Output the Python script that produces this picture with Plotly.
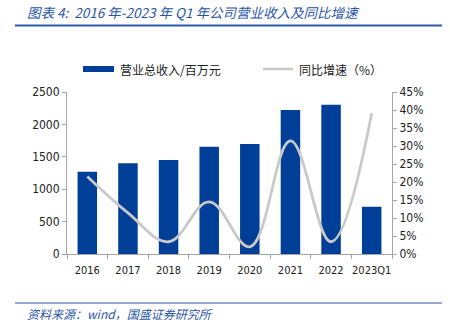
import plotly.graph_objects as go

categories = ["2016", "2017", "2018", "2019", "2020", "2021", "2022", "2023Q1"]
revenue = [1270, 1400, 1450, 1656, 1697, 2222, 2304, 730]
growth = [21.5, 11.4, 3.4, 14.5, 2.0, 31.4, 3.4, 39.1]
left_ticks = [0, 500, 1000, 1500, 2000, 2500]
right_ticks = [0, 5, 10, 15, 20, 25, 30, 35, 40, 45]
right_labels = [f"{v}%" for v in right_ticks]

BAR = "#003f97"
LINE = "#c9c9c9"
TXTBLUE = "#2a56a6"
AXIS = "#a6a6a6"
FONT = "DejaVu Sans Condensed, DejaVu Sans, Noto Sans CJK SC"
CJK = "Noto Sans CJK SC"

fig = go.Figure()
fig.add_trace(go.Bar(x=categories, y=revenue, marker_color=BAR, marker_line_width=0,
                     name="营业总收入/百万元", showlegend=False))
fig.add_trace(go.Scatter(x=categories, y=growth, yaxis="y2", mode="lines",
                         line=dict(color=LINE, width=2.8, shape="spline", smoothing=1.1),
                         name="同比增速（%）", showlegend=False))

fig.update_layout(
    width=450, height=327,
    margin=dict(l=67, r=58, t=92, b=73),
    paper_bgcolor="white", plot_bgcolor="white",
    bargap=0.52,
    font=dict(family=FONT, size=12, color="#222222"),
    xaxis=dict(type="category", showline=True, linecolor=AXIS, linewidth=1,
               ticks="outside", ticklen=4, tickcolor=AXIS, tickson="boundaries",
               ticklabelstandoff=6,
               tickangle=0, tickfont=dict(size=11, family=FONT), showgrid=False),
    yaxis=dict(range=[0, 2500], tickvals=left_ticks, showline=True, linecolor=AXIS,
               linewidth=1, ticks="outside", ticklen=4, tickcolor=AXIS, showgrid=False,
               zeroline=False, tickfont=dict(size=12, family=FONT)),
    yaxis2=dict(range=[0, 45], overlaying="y", side="right", tickvals=right_ticks,
                ticktext=right_labels, showline=True, linecolor=AXIS, linewidth=1,
                ticks="outside", ticklen=4, tickcolor=AXIS, showgrid=False,
                zeroline=False, tickfont=dict(size=12, family=FONT)),
    shapes=[
        dict(type="line", xref="paper", yref="paper", x0=-52/325, x1=375/325,
             y0=1 + (92 - 25.5) / 162, y1=1 + (92 - 25.5) / 162,
             line=dict(color=TXTBLUE, width=2)),
        dict(type="line", xref="paper", yref="paper", x0=-52/325, x1=375/325,
             y0=-(303 - 254) / 162, y1=-(303 - 254) / 162,
             line=dict(color=TXTBLUE, width=1)),
        dict(type="rect", xref="paper", yref="paper", x0=(83 - 67) / 325, x1=(114 - 67) / 325,
             y0=1 + (92 - 72) / 162, y1=1 + (92 - 66) / 162,
             fillcolor=BAR, line=dict(width=0)),
        dict(type="line", xref="paper", yref="paper", x0=(263 - 67) / 325, x1=(293 - 67) / 325,
             y0=1 + (92 - 69) / 162, y1=1 + (92 - 69) / 162,
             line=dict(color=LINE, width=2.5)),
    ],
    annotations=[
        dict(text="<i>图表 4:  2016 年-2023 年 Q1 年公司营业收入及同比增速</i>", xref="paper", yref="paper",
             x=(25 - 67) / 325, y=1 + (92 - 12) / 162, xanchor="left", yanchor="middle",
             showarrow=False, font=dict(family=CJK, size=13.5, color=TXTBLUE)),
        dict(text="营业总收入/百万元", xref="paper", yref="paper",
             x=(118 - 67) / 325, y=1 + (92 - 69) / 162, xanchor="left", yanchor="middle",
             showarrow=False, font=dict(family=CJK, size=12, color="#222222")),
        dict(text="同比增速（%）", xref="paper", yref="paper",
             x=(297 - 67) / 325, y=1 + (92 - 69) / 162, xanchor="left", yanchor="middle",
             showarrow=False, font=dict(family=CJK, size=12, color="#222222")),
        dict(text="<i>资料来源：wind，国盛证券研究所</i>", xref="paper", yref="paper",
             x=(25 - 67) / 325, y=-(313 - 254) / 162, xanchor="left", yanchor="middle",
             showarrow=False, font=dict(family=CJK, size=12, color=TXTBLUE)),
    ],
)

fig.write_html("out.html")
